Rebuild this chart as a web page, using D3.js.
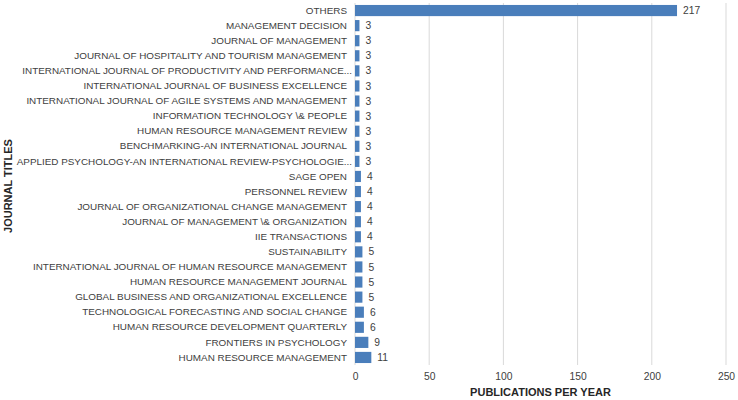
<!DOCTYPE html>
<html>
<head>
<meta charset="utf-8">
<script src="https://cdn.jsdelivr.net/npm/d3@7"></script>
<style>
  body { margin: 0; background: #fff; }
  text { font-family: "Liberation Sans", Arial, sans-serif; }
</style>
</head>
<body>
<div id="chart"></div>
<script>
const journals = [
  "OTHERS",
  "MANAGEMENT DECISION",
  "JOURNAL OF MANAGEMENT",
  "JOURNAL OF HOSPITALITY AND TOURISM MANAGEMENT",
  "INTERNATIONAL JOURNAL OF PRODUCTIVITY AND PERFORMANCE...",
  "INTERNATIONAL JOURNAL OF BUSINESS EXCELLENCE",
  "INTERNATIONAL JOURNAL OF AGILE SYSTEMS AND MANAGEMENT",
  "INFORMATION TECHNOLOGY \\& PEOPLE",
  "HUMAN RESOURCE MANAGEMENT REVIEW",
  "BENCHMARKING-AN INTERNATIONAL JOURNAL",
  "APPLIED PSYCHOLOGY-AN INTERNATIONAL REVIEW-PSYCHOLOGIE...",
  "SAGE OPEN",
  "PERSONNEL REVIEW",
  "JOURNAL OF ORGANIZATIONAL CHANGE MANAGEMENT",
  "JOURNAL OF MANAGEMENT \\& ORGANIZATION",
  "IIE TRANSACTIONS",
  "SUSTAINABILITY",
  "INTERNATIONAL JOURNAL OF HUMAN RESOURCE MANAGEMENT",
  "HUMAN RESOURCE MANAGEMENT JOURNAL",
  "GLOBAL BUSINESS AND ORGANIZATIONAL EXCELLENCE",
  "TECHNOLOGICAL FORECASTING AND SOCIAL CHANGE",
  "HUMAN RESOURCE DEVELOPMENT QUARTERLY",
  "FRONTIERS IN PSYCHOLOGY",
  "HUMAN RESOURCE MANAGEMENT"
];
const counts = [217, 3, 3, 3, 3, 3, 3, 3, 3, 3, 3, 4, 4, 4, 4, 4, 5, 5, 5, 5, 6, 6, 9, 11];
const xTicks = [0, 50, 100, 150, 200, 250];

const width = 738, height = 400;
const margin = { top: 3, right: 12, bottom: 35, left: 355 };

const svg = d3.select("#chart").append("svg")
  .attr("width", width)
  .attr("height", height);

const x = d3.scaleLinear()
  .domain([0, 250])
  .range([margin.left, 726]);

const y = d3.scaleBand()
  .domain(journals)
  .range([margin.top, height - margin.bottom])
  .paddingInner(0.26)
  .paddingOuter(0.13);

// gridlines
svg.append("g")
  .selectAll("line")
  .data(xTicks)
  .join("line")
  .attr("x1", d => x(d)).attr("x2", d => x(d))
  .attr("y1", margin.top).attr("y2", height - margin.bottom)
  .attr("stroke", "#d9d9d9")
  .attr("stroke-width", 1);

// bars
svg.append("g")
  .selectAll("rect")
  .data(journals)
  .join("rect")
  .attr("x", x(0))
  .attr("y", d => y(d))
  .attr("width", (d, i) => x(counts[i]) - x(0))
  .attr("height", y.bandwidth())
  .attr("fill", "#4a7ebb");

// value labels
svg.append("g")
  .selectAll("text")
  .data(journals)
  .join("text")
  .attr("x", (d, i) => x(counts[i]) + 6)
  .attr("y", d => y(d) + y.bandwidth() / 2)
  .attr("dy", "0.35em")
  .attr("font-size", 10.3)
  .attr("fill", "#404040")
  .text((d, i) => counts[i]);

// y labels (truncated ones spill a bit further right, as in Excel)
const yAxis = svg.append("g")
  .attr("transform", `translate(${margin.left - 8},0)`)
  .call(d3.axisLeft(y).tickSize(0).tickPadding(0));
yAxis.select(".domain").remove();
yAxis.selectAll("text")
  .attr("font-size", 9.9)
  .attr("font-family", "'Liberation Sans', Arial, sans-serif")
  .attr("fill", "#404040")
  .attr("x", d => d.endsWith("...") ? 5 : 0);

// x tick labels
const xAxis = svg.append("g")
  .attr("transform", `translate(0,${height - margin.bottom})`)
  .call(d3.axisBottom(x).tickValues(xTicks).tickSize(0).tickPadding(8));
xAxis.select(".domain").remove();
xAxis.selectAll("text")
  .attr("font-size", 10.3)
  .attr("font-family", "'Liberation Sans', Arial, sans-serif")
  .attr("fill", "#404040");

// axis titles
svg.append("text")
  .attr("x", (x(0) + x(250)) / 2)
  .attr("y", 396)
  .attr("text-anchor", "middle")
  .attr("font-size", 11)
  .attr("font-weight", "bold")
  .attr("fill", "#262626")
  .text("PUBLICATIONS PER YEAR");

svg.append("text")
  .attr("transform", `translate(12,${(margin.top + height - margin.bottom) / 2 + 2}) rotate(-90)`)
  .attr("text-anchor", "middle")
  .attr("font-size", 11)
  .attr("font-weight", "bold")
  .attr("fill", "#262626")
  .text("JOURNAL TITLES");
</script>
</body>
</html>
